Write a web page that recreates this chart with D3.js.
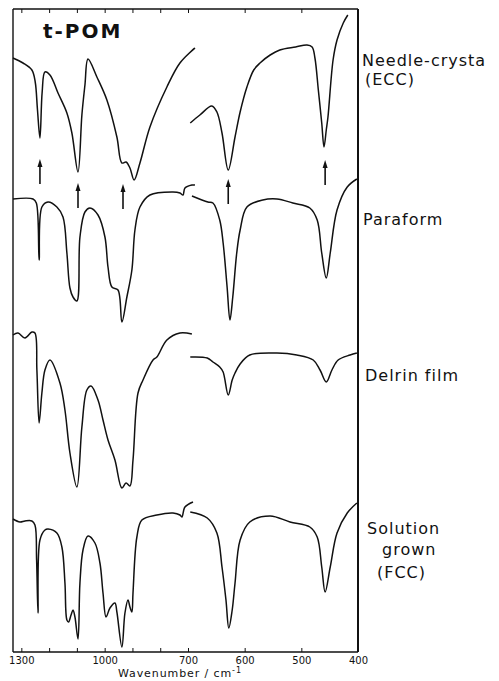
<!DOCTYPE html>
<html>
<head>
<meta charset="utf-8">
<style>
  body { margin: 0; background: #fff; }
  svg { display: block; font-family: "DejaVu Sans", sans-serif; }
  .trace { fill: none; stroke: #111; stroke-width: 1.5px; stroke-linejoin: round; }
  .frame { stroke: #111; stroke-width: 1.4px; }
  .tick line { stroke: #111; stroke-width: 1px; }
  .tick text { font-family: "DejaVu Sans", sans-serif; font-size: 10px; fill: #111; }
  .label { font-size: 16px; letter-spacing: 1px; fill: #111; }
</style>
</head>
<body>
<div id="chart"></div>
<script src="https://cdn.jsdelivr.net/npm/d3@7"></script>
<script>
// wavenumber ticks, the axis is expanded 2x below 700 cm-1
var ticksHigh = [1300, 1200, 1100, 1000, 900, 800, 700];
var ticksLow = [600, 500, 400];
var tickLabels = [1300, 1000, 700, 600, 500, 400];

// spectra, [wavenumber, trace height (arb. units)]; "High" = 1330-700, "Low" = 700-400
var eccHigh = [[1330,118.8],[1294,117.8],[1262,116.4],[1250,114],[1242,108.5],[1233,102.8],[1225,112],[1215,116],[1197,115.4],[1168,111.8],[1136,107.8],[1118,103.8],[1096,96],[1082,107.4],[1071,113.4],[1060,118.6],[1028,115],[992,110.4],[956,103],[938,97.8],[923,98],[909,96.8],[894,94.4],[873,97.8],[837,105],[776,113],[729,117.8],[675,120.8]];
var eccLow = [[696,105.8],[679,107.4],[658,109.2],[649,108],[640,103.8],[629,96.4],[617,103],[608,108],[596,113],[584,116.4],[573,117.8],[555,119.4],[538,120.4],[510,121],[490,121.4],[481,121],[476,118.8],[470,112.4],[464,105.8],[460,101],[456,104.4],[453,107],[444,118.4],[437,122.4],[426,125.8],[418,127.4]];

var paraHigh = [[1330,90.6],[1258,90.6],[1246,89.8],[1236,78.4],[1226,89],[1204,90],[1172,89],[1150,87],[1136,79.8],[1125,72.8],[1114,71],[1100,70.2],[1089,83],[1071,88],[1053,88.8],[1024,87.4],[999,83],[988,77],[974,73],[952,72.4],[938,66],[920,71],[902,76.4],[891,84.4],[873,89],[837,91.4],[754,92],[729,91.8],[718,91.4],[711,92.8],[686,93.4],[675,93.4]];
var paraLow = [[693,91.2],[665,90],[656,89.8],[644,86.4],[638,81.8],[631,73],[626,66.4],[621,71],[614,79.8],[608,84.4],[596,89],[568,90.4],[543,90.6],[515,89.8],[485,88.8],[472,86.4],[464,79.8],[456,74.8],[449,79.8],[437,88.4],[419,93],[402,94.6]];

var delrinHigh = [[1330,63.4],[1312,63.8],[1287,62.8],[1262,64],[1251,63.8],[1244,56.4],[1236,45.8],[1226,51.8],[1215,56.4],[1197,58.4],[1161,53.8],[1143,48.4],[1125,39.8],[1100,33],[1082,45],[1064,52.4],[1049,53.2],[1024,50.4],[1006,46.4],[988,42.4],[963,38.4],[938,32.8],[923,33.8],[909,33.2],[898,38.4],[880,51.8],[862,54.4],[826,58.4],[812,59],[776,62.4],[729,63.8],[686,63.6]];
var delrinLow = [[696,59],[666,58.8],[656,58],[644,57],[638,56],[629,51.4],[622,54.4],[617,55.8],[608,57.6],[591,59.4],[543,59.8],[508,59.4],[479,58.4],[467,56.4],[456,54],[446,56.4],[435,58.4],[414,59.4],[402,59.8]];

var fccHigh = [[1330,26.6],[1305,26],[1287,26.2],[1262,26.2],[1251,25.4],[1245,18.4],[1240,7.8],[1233,22.4],[1215,24.4],[1204,24.6],[1172,23.8],[1154,21],[1143,13.8],[1136,6.4],[1130,6],[1121,7.4],[1114,8.4],[1107,7],[1096,2.6],[1089,13.8],[1078,20.4],[1060,23.2],[1035,21.8],[1017,17.8],[1006,11.8],[995,7],[981,8.8],[963,9.8],[956,8],[938,1],[927,7.8],[916,10.4],[909,9],[902,8],[898,11.8],[884,23],[866,26.4],[812,27.4],[754,27.8],[729,27.4],[722,27],[711,29],[682,30]];
var fccLow = [[696,28],[666,26.8],[649,23.8],[640,17],[633,10.4],[628,4.8],[622,8.4],[617,13.8],[608,22.4],[591,26],[555,27.2],[520,26],[485,25],[472,23],[464,17],[458,12],[449,17],[437,23.8],[419,27.8],[402,29.8]];

// ECC bands marked with arrows: wavenumber, tip height
var arrowWn = [1233, 1096, 934, 629, 458];
var arrowTip = [98.6, 93.8, 93.6, 94.6, 98.4];

var sampleNames = [["Needle-crysta", "(ECC)"], ["Paraform"], ["Delrin film"], ["Solution", "grown", "(FCC)"]];

var width = 499, height = 681,
    plotLeft = 13, plotRight = 358, plotTop = 9, plotBottom = 652, xBreak = 188;

var svg = d3.select("#chart").append("svg")
    .attr("width", width)
    .attr("height", height);

var xHigh = d3.scaleLinear().domain([1330, 700]).range([plotLeft, xBreak]);
var xLow = d3.scaleLinear().domain([700, 400]).range([xBreak, plotRight]);
var y = d3.scaleLinear().domain([0, (plotBottom - plotTop) / 5]).range([plotBottom, plotTop]);

function lineFor(x) {
  return d3.line()
    .x(function (d) { return x(d[0]); })
    .y(function (d) { return y(d[1]); })
    .curve(d3.curveCatmullRom.alpha(0.5));
}

var traces = [
  [eccHigh, xHigh], [eccLow, xLow],
  [paraHigh, xHigh], [paraLow, xLow],
  [delrinHigh, xHigh], [delrinLow, xLow],
  [fccHigh, xHigh], [fccLow, xLow]
];

svg.append("g").selectAll("path")
  .data(traces)
  .enter().append("path")
    .attr("class", "trace")
    .attr("d", function (t) { return lineFor(t[1])(t[0]); });

// axes
function fmt(d) { return tickLabels.indexOf(d) >= 0 ? d : ""; }

[[xHigh, ticksHigh], [xLow, ticksLow]].forEach(function (a) {
  svg.append("g")
    .attr("transform", "translate(0," + plotBottom + ")")
    .call(d3.axisBottom(a[0]).tickValues(a[1]).tickSize(-4).tickPadding(5).tickFormat(fmt))
    .call(function (g) { g.select(".domain").remove(); });
  svg.append("g")
    .attr("transform", "translate(0," + plotTop + ")")
    .call(d3.axisTop(a[0]).tickValues(a[1]).tickSize(-4).tickFormat(""))
    .call(function (g) { g.select(".domain").remove(); });
});

svg.append("line").attr("class", "frame").attr("x1", plotLeft).attr("x2", plotRight).attr("y1", plotTop).attr("y2", plotTop);
svg.append("line").attr("class", "frame").attr("x1", plotLeft).attr("x2", plotRight).attr("y1", plotBottom).attr("y2", plotBottom);
svg.append("line").attr("class", "frame").attr("x1", plotLeft).attr("x2", plotLeft).attr("y1", plotTop).attr("y2", plotBottom);
svg.append("line").attr("class", "frame").attr("x1", plotRight).attr("x2", plotRight).attr("y1", plotTop).attr("y2", plotBottom)
  .style("stroke-width", "2px");

// arrows
arrowWn.forEach(function (wn, i) {
  var x = wn > 700 ? xHigh(wn) : xLow(wn);
  var yt = y(arrowTip[i]);
  svg.append("line")
    .attr("x1", x).attr("x2", x)
    .attr("y1", yt + 5).attr("y2", yt + 25)
    .attr("stroke", "#111").attr("stroke-width", 1.6);
  svg.append("path")
    .attr("d", "M" + x + "," + yt + "L" + (x - 2.5) + "," + (yt + 8) + "L" + (x + 2.5) + "," + (yt + 8) + "Z")
    .attr("fill", "#111");
});

// text
svg.append("text")
  .attr("x", 43).attr("y", 38)
  .attr("font-size", 20).attr("font-weight", "bold")
  .attr("letter-spacing", 2)
  .attr("fill", "#111")
  .text("t-POM");

var labelPos = [[[362, 66], [365, 85]], [[363, 225]], [[365, 381]], [[367, 534], [382, 555], [377, 578]]];
sampleNames.forEach(function (lines, i) {
  lines.forEach(function (s, j) {
    svg.append("text")
      .attr("class", "label")
      .attr("x", labelPos[i][j][0])
      .attr("y", labelPos[i][j][1])
      .text(s);
  });
});

var xt = svg.append("text")
  .attr("x", 118).attr("y", 677)
  .attr("font-size", 11).attr("letter-spacing", 0.9)
  .attr("fill", "#111");
xt.append("tspan").text("Wavenumber / cm");
xt.append("tspan").attr("dy", -4).attr("font-size", 8).text("-1");
</script>
</body>
</html>
